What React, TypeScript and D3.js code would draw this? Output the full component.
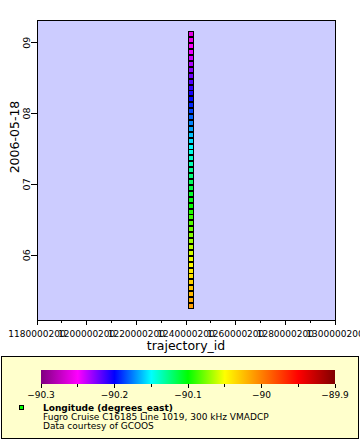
import React from "react";
import * as d3 from "d3";

const DAY = "2006-05-18";
const times = [
  "05:17", "05:22", "05:27", "05:32", "05:37", "05:42", "05:47", "05:52", "05:57",
  "06:02", "06:07", "06:12", "06:17", "06:22", "06:27", "06:32", "06:37", "06:42", "06:47", "06:52", "06:57",
  "07:02", "07:07", "07:12", "07:17", "07:22", "07:27", "07:32", "07:37", "07:42", "07:47", "07:52", "07:57",
  "08:02", "08:07", "08:12", "08:17", "08:22", "08:27", "08:32", "08:37", "08:42", "08:47", "08:52", "08:57",
  "09:02", "09:07",
];
const longitudes = [
  -90.012, -90.017, -90.022, -90.027, -90.032, -90.038, -90.043, -90.049, -90.054,
  -90.059, -90.064, -90.069, -90.074, -90.079, -90.084, -90.089, -90.094, -90.099,
  -90.104, -90.109, -90.114, -90.119, -90.124, -90.129, -90.135, -90.14, -90.145,
  -90.15, -90.156, -90.162, -90.168, -90.174, -90.18, -90.186, -90.192, -90.198,
  -90.204, -90.21, -90.216, -90.222, -90.228, -90.234, -90.24, -90.246, -90.251,
  -90.256, -90.261,
];
const trajectoryId = 1242000200;
const xDomain = [1180000200, 1300000200];
const xMajorTicks = [1180000200, 1200000200, 1220000200, 1240000200, 1260000200, 1280000200, 1300000200];
const xMinorTicks = [1190000200, 1210000200, 1230000200, 1250000200, 1270000200, 1290000200];
const yDomain = ["05:05:10", "09:19:10"];
const cbMajorTicks = [-90.3, -90.2, -90.1, -90, -89.9];
const cbMinorTicks = [-90.25, -90.15, -90.05, -89.95];
const paletteStops = [-90.3, -90.25, -90.2, -90.15, -90.1, -90.05, -90.0, -89.95, -89.9];
const paletteColors = ["#800080", "#ff00ff", "#0000ff", "#00ffff", "#00ff00", "#ffff00", "#ff8000", "#ff0000", "#800000"];
const legendTitle = "Longitude (degrees_east)";
const legendLines = ["Fugro Cruise C16185 Line 1019, 300 kHz VMADCP", "Data courtesy of GCOOS"];
const xLabel = "trajectory_id";

const FONT = "DejaVu Sans";
const W = 360, H = 440;
const PL = 37, PR = 335, PT = 20, PB = 320;

const toDate = (t: string) => new Date(`${DAY}T${t.length === 5 ? t + ":00" : t}Z`);

export default function App() {
  const x = d3.scaleLinear().domain(xDomain).range([PL, PR]);
  const y = d3.scaleUtc().domain(yDomain.map(toDate)).range([PB, PT]);
  const color = d3.scaleLinear<string>().domain(paletteStops).range(paletteColors).clamp(true);
  const cbX = d3.scaleLinear().domain([-90.3, -89.9]).range([41, 335]);
  const yTicks = y.ticks(d3.utcHour.every(1)!);
  const fmtH = d3.utcFormat("%H");
  const cbFmt = d3.format("");

  return (
    <svg width={W} height={H} style={{ position: "absolute", left: 0, top: 0 }} fontFamily={FONT}>
      <defs>
        <linearGradient id="cb" x1="0" x2="1" y1="0" y2="0">
          {paletteStops.map((s, i) => (
            <stop key={i} offset={(cbX(s) - 41) / (335 - 41)} stopColor={paletteColors[i]} />
          ))}
        </linearGradient>
      </defs>
      <rect x={0} y={0} width={W} height={H} fill="#ffffff" />
      <rect x={PL} y={PT} width={PR - PL} height={PB - PT} fill="#ccccff" stroke="#000" strokeWidth={1} shapeRendering="crispEdges" />
      {times.map((t, i) => (
        <rect key={i} x={x(trajectoryId) - 2.5} y={y(toDate(t)) - 2.5} width={5} height={5}
          fill={color(longitudes[i])} stroke="#000" strokeWidth={1} shapeRendering="crispEdges" />
      ))}
      {/* x axis */}
      {xMajorTicks.map((v) => (
        <line key={"xm" + v} x1={x(v)} x2={x(v)} y1={PB} y2={PB + 5} stroke="#000" shapeRendering="crispEdges" />
      ))}
      {xMinorTicks.map((v) => (
        <line key={"xn" + v} x1={x(v)} x2={x(v)} y1={PB} y2={PB + 3} stroke="#000" shapeRendering="crispEdges" />
      ))}
      {xMajorTicks.map((v) => (
        <text key={"xt" + v} x={x(v)} y={337} fontSize={9} textAnchor="middle">{String(v)}</text>
      ))}
      <text x={(PL + PR) / 2} y={350} fontSize={12.5} textAnchor="middle">{xLabel}</text>
      {/* y axis */}
      {yTicks.map((d) => (
        <g key={"y" + +d}>
          <line x1={PL - 6} x2={PL} y1={y(d)} y2={y(d)} stroke="#000" shapeRendering="crispEdges" />
          <text transform={`translate(30,${y(d)}) rotate(-90)`} fontSize={9.5} textAnchor="middle">{fmtH(d)}</text>
        </g>
      ))}
      <text transform={`translate(18.5,137) rotate(-90)`} fontSize={12.5} textAnchor="middle">{DAY}</text>
      {/* legend */}
      <rect x={1.5} y={356.5} width={357} height={82} fill="#ffffcc" stroke="#000" strokeWidth={1} />
      <rect x={41} y={370} width={294} height={14} fill="url(#cb)" />
      {cbMajorTicks.map((v) => (
        <g key={"cb" + v}>
          <line x1={cbX(v)} x2={cbX(v)} y1={384} y2={388} stroke="#000" shapeRendering="crispEdges" />
          <text x={cbX(v)} y={397.5} fontSize={9} textAnchor="middle">{cbFmt(v)}</text>
        </g>
      ))}
      {cbMinorTicks.map((v) => (
        <line key={"cbn" + v} x1={cbX(v)} x2={cbX(v)} y1={384} y2={387} stroke="#000" shapeRendering="crispEdges" />
      ))}
      <rect x={19.5} y={405.5} width={4} height={4} fill="#00ff00" stroke="#000" strokeWidth={1} shapeRendering="crispEdges" />
      <text x={43} y={410.5} fontSize={9} fontWeight="bold">{legendTitle}</text>
      {legendLines.map((l, i) => (
        <text key={i} x={43} y={420 + i * 8.8} fontSize={9}>{l}</text>
      ))}
    </svg>
  );
}
